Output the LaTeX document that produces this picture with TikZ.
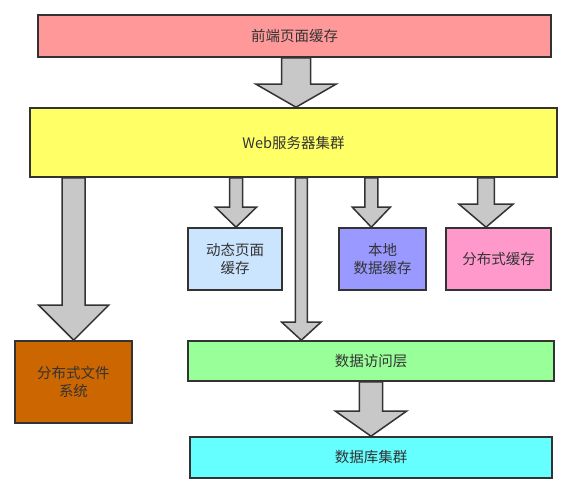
\documentclass[tikz,border=0pt]{standalone}
\usepackage{fontspec}
\setmainfont{Noto Sans CJK SC}
\usetikzlibrary{calc}
\pgfdeclarelayer{background}
\pgfsetlayers{background,main}
\definecolor{edge}{HTML}{333333}
\definecolor{arrowfill}{HTML}{C8C8C8}
\definecolor{ctop}{HTML}{FF9999}
\definecolor{cweb}{HTML}{FFFF66}
\definecolor{cdyn}{HTML}{CCE5FF}
\definecolor{cloc}{HTML}{9999FF}
\definecolor{cdist}{HTML}{FF99CC}
\definecolor{cdfs}{HTML}{CC6600}
\definecolor{cdal}{HTML}{99FF99}
\definecolor{cdb}{HTML}{66FFFF}
\tikzset{
  box/.style={draw=edge, line width=1.6pt, rectangle, inner sep=0pt, align=center,
    text=edge, font=\fontsize{14.5}{18}\selectfont},
  arr/.style={draw=edge, fill=arrowfill, line width=1.5pt, line join=miter},
}
% #1 source node, #2 target node, #3 x, #4 shaft half width, #5 head half width, #6 head length
\newcommand\blockarrow[6]{%
  \draw[arr] let \p1=(#1.south), \p2=(#2.north) in
    (#3pt-#4pt,\y1) -- (#3pt+#4pt,\y1) -- (#3pt+#4pt,\y2+#6pt) -- (#3pt+#5pt,\y2+#6pt)
    -- (#3pt,\y2) -- (#3pt-#5pt,\y2+#6pt) -- (#3pt-#4pt,\y2+#6pt) -- cycle;}
\begin{document}
\begin{tikzpicture}[x=1pt,y=-1pt]
\useasboundingbox (0,0) rectangle (579,500);
\node[box, fill=ctop, minimum width=513pt, minimum height=42pt] (top) at (294.5,36) {前端页面缓存};
\node[box, fill=cweb, minimum width=527pt, minimum height=69pt] (web) at (293.5,142.5) {Web服务器集群};
\node[box, fill=cdyn, minimum width=94pt, minimum height=62pt] (dyn) at (235,259) {动态页面\\缓存};
\node[box, fill=cloc, minimum width=87pt, minimum height=62pt] (loc) at (382.5,259) {本地\\数据缓存};
\node[box, fill=cdist, minimum width=105pt, minimum height=62pt] (dist) at (498.5,259) {分布式缓存};
\node[box, fill=cdfs, minimum width=117pt, minimum height=82pt] (dfs) at (73.5,382) {分布式文件\\系统};
\node[box, fill=cdal, minimum width=366pt, minimum height=40pt] (dal) at (371,361) {数据访问层};
\node[box, fill=cdb, minimum width=362pt, minimum height=41pt] (db) at (371,457.5) {数据库集群};
\begin{pgfonlayer}{background}
\fill[white] (0,0) rectangle (579,500);
\blockarrow{top}{web}{296}{14.5}{40}{23}
\blockarrow{web}{dfs}{73.7}{11.5}{35}{35}
\blockarrow{web}{dyn}{236}{6.5}{20.5}{20}
\blockarrow{web}{dal}{301.3}{6}{19.6}{18}
\blockarrow{web}{loc}{371.3}{6.5}{19}{20}
\blockarrow{web}{dist}{486}{8.3}{27}{23}
\blockarrow{dal}{db}{371}{11.6}{35.5}{25}
\end{pgfonlayer}
\end{tikzpicture}
\end{document}
